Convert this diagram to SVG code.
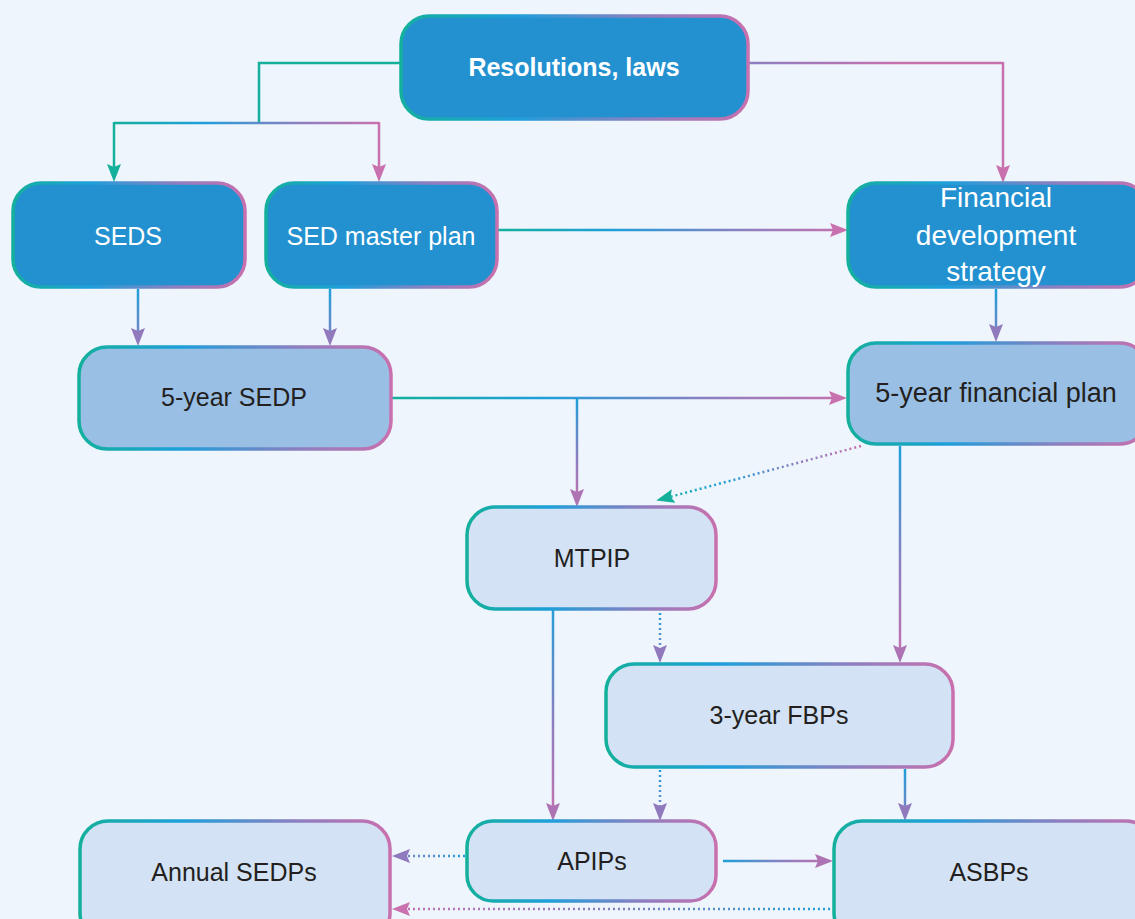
<svg xmlns="http://www.w3.org/2000/svg" xmlns:xlink="http://www.w3.org/1999/xlink" width="1135" height="919" viewBox="0 0 1135 919">
<style>
.lbl{font-family:"Liberation Sans",Arial,sans-serif;font-size:25px;text-anchor:middle;fill:#231f20}
.big{font-size:28px}
.big2{font-size:27px}
.wt{fill:#ffffff}
.bold{font-weight:bold}
.box{stroke:url(#gBorder);stroke-width:3.5}
.dark{fill:#2391d0}
.mid{fill:#99bfe5}
.light{fill:#d3e2f4}
.ln{fill:none;stroke-width:2.5}
.dot{fill:none;stroke-width:2.5;stroke-dasharray:2 3}
</style>
<defs>
<linearGradient id="gBorder" x1="0" y1="0" x2="1" y2="0">
<stop offset="0" stop-color="#14b09c"/><stop offset="0.33" stop-color="#1e9fda"/><stop offset="0.7" stop-color="#8c7fc0"/><stop offset="1" stop-color="#c970ae"/>
</linearGradient>
<linearGradient id="gFull"><stop offset="0" stop-color="#14b09c"/><stop offset="0.33" stop-color="#1e9fda"/><stop offset="0.7" stop-color="#8c7fc0"/><stop offset="1" stop-color="#c970ae"/></linearGradient>
<linearGradient id="gBP"><stop offset="0" stop-color="#1e9fda"/><stop offset="0.55" stop-color="#8c7fc0"/><stop offset="1" stop-color="#c970ae"/></linearGradient>
<linearGradient id="gBPu"><stop offset="0" stop-color="#1e9fda"/><stop offset="1" stop-color="#8c7fc0"/></linearGradient>
<linearGradient id="gPP"><stop offset="0" stop-color="#8c7fc0"/><stop offset="0.6" stop-color="#c970ae"/><stop offset="1" stop-color="#c970ae"/></linearGradient>
<linearGradient id="c1" xlink:href="#gFull" gradientUnits="userSpaceOnUse" x1="114" y1="0" x2="379" y2="0"/>
<linearGradient id="c2" xlink:href="#gPP" gradientUnits="userSpaceOnUse" x1="748" y1="0" x2="1003" y2="0"/>
<linearGradient id="c3" xlink:href="#gFull" gradientUnits="userSpaceOnUse" x1="497" y1="0" x2="848" y2="0"/>
<linearGradient id="v1" xlink:href="#gBPu" gradientUnits="userSpaceOnUse" x1="0" y1="289" x2="0" y2="346"/>
<linearGradient id="c4" xlink:href="#gFull" gradientUnits="userSpaceOnUse" x1="391" y1="0" x2="847" y2="0"/>
<linearGradient id="v2" xlink:href="#gBP" gradientUnits="userSpaceOnUse" x1="0" y1="398" x2="0" y2="507"/>
<linearGradient id="c5" xlink:href="#gFull" gradientUnits="userSpaceOnUse" x1="656" y1="0" x2="861" y2="0"/>
<linearGradient id="v3" xlink:href="#gBP" gradientUnits="userSpaceOnUse" x1="0" y1="446" x2="0" y2="663"/>
<linearGradient id="v4" xlink:href="#gBP" gradientUnits="userSpaceOnUse" x1="0" y1="601" x2="0" y2="821"/>
<linearGradient id="v5" xlink:href="#gBPu" gradientUnits="userSpaceOnUse" x1="0" y1="612" x2="0" y2="663"/>
<linearGradient id="v6" xlink:href="#gBPu" gradientUnits="userSpaceOnUse" x1="0" y1="769" x2="0" y2="821"/>
<linearGradient id="c6" xlink:href="#gBPu" gradientUnits="userSpaceOnUse" x1="467" y1="0" x2="392" y2="0"/>
<linearGradient id="c7" xlink:href="#gBP" gradientUnits="userSpaceOnUse" x1="723" y1="0" x2="833" y2="0"/>
<linearGradient id="c8" xlink:href="#gBP" gradientUnits="userSpaceOnUse" x1="840" y1="0" x2="392" y2="0"/>
<marker id="mTeal" markerUnits="userSpaceOnUse" markerWidth="20" markerHeight="16" refX="12" refY="7" orient="auto"><path d="M0,0 L18,7 L0,14 L3,7 z" fill="#14b09c"/></marker>
<marker id="mPurple" markerUnits="userSpaceOnUse" markerWidth="20" markerHeight="16" refX="12" refY="7" orient="auto"><path d="M0,0 L18,7 L0,14 L3,7 z" fill="#9079bd"/></marker>
<marker id="mMauve" markerUnits="userSpaceOnUse" markerWidth="20" markerHeight="16" refX="12" refY="7" orient="auto"><path d="M0,0 L18,7 L0,14 L3,7 z" fill="#ad73b3"/></marker>
<marker id="mPink" markerUnits="userSpaceOnUse" markerWidth="20" markerHeight="16" refX="12" refY="7" orient="auto"><path d="M0,0 L18,7 L0,14 L3,7 z" fill="#c970ae"/></marker>
</defs>
<rect x="0" y="0" width="1135" height="919" fill="#eef5fc"/>
<g id="connectors">
<path class="ln" stroke="#14b09c" d="M400,63 H259 V123"/>
<path class="ln" stroke="url(#c1)" d="M114,123 H379"/>
<path class="ln" stroke="#14b09c" d="M114,122 V176" marker-end="url(#mTeal)"/>
<path class="ln" stroke="#c970ae" d="M379,122 V176" marker-end="url(#mPink)"/>
<path class="ln" stroke="url(#c2)" d="M748,63 H1003"/>
<path class="ln" stroke="#c970ae" d="M1003,62 V177" marker-end="url(#mPink)"/>
<path class="ln" stroke="url(#c3)" d="M497,230 H842" marker-end="url(#mPink)"/>
<path class="ln" stroke="url(#v1)" d="M138,289 V340" marker-end="url(#mPurple)"/>
<path class="ln" stroke="url(#v1)" d="M330,289 V340" marker-end="url(#mPurple)"/>
<path class="ln" stroke="url(#v1)" d="M996,289 V336" marker-end="url(#mPurple)"/>
<path class="ln" stroke="url(#c4)" d="M391,398 H841" marker-end="url(#mPink)"/>
<path class="ln" stroke="url(#v2)" d="M577,398 V501" marker-end="url(#mMauve)"/>
<path class="dot" stroke="url(#c5)" d="M861,446 L662,499" marker-end="url(#mTeal)"/>
<path class="ln" stroke="url(#v3)" d="M900,446 V657" marker-end="url(#mMauve)"/>
<path class="ln" stroke="url(#v4)" d="M553,601 V815" marker-end="url(#mMauve)"/>
<path class="dot" stroke="url(#v5)" d="M660,613 V657" marker-end="url(#mPurple)"/>
<path class="dot" stroke="url(#v6)" d="M660,770 V815" marker-end="url(#mPurple)"/>
<path class="ln" stroke="url(#v6)" d="M905,769 V815" marker-end="url(#mPurple)"/>
<path class="dot" stroke="url(#c6)" d="M465,856 H398" marker-end="url(#mPurple)"/>
<path class="ln" stroke="url(#c7)" stroke-width="4" d="M723,861 H827" marker-end="url(#mMauve)"/>
<path class="dot" stroke="url(#c8)" d="M840,909 H398" marker-end="url(#mPink)"/>
</g>
<g id="node-resolutions">
<rect class="box dark" x="401" y="16" width="347" height="103" rx="28"/>
<text class="lbl wt bold" x="574" y="76">Resolutions, laws</text>
</g>
<g id="node-seds">
<rect class="box dark" x="13" y="183" width="232" height="104" rx="28"/>
<text class="lbl wt" x="128" y="245">SEDS</text>
</g>
<g id="node-sed-master-plan">
<rect class="box dark" x="266" y="183" width="231" height="104" rx="28"/>
<text class="lbl wt" x="381" y="245">SED master plan</text>
</g>
<g id="node-financial-strategy">
<rect class="box dark" x="848" y="183" width="300" height="104" rx="28"/>
<text class="lbl wt big" x="996" y="207">Financial</text>
<text class="lbl wt big" x="996" y="245">development</text>
<text class="lbl wt big" x="996" y="281">strategy</text>
</g>
<g id="node-5y-sedp">
<rect class="box mid" x="79" y="347" width="312" height="102" rx="28"/>
<text class="lbl" x="234" y="406">5-year SEDP</text>
</g>
<g id="node-5y-fin-plan">
<rect class="box mid" x="848" y="343" width="300" height="101" rx="28"/>
<text class="lbl big2" x="996" y="402">5-year financial plan</text>
</g>
<g id="node-mtpip">
<rect class="box light" x="467" y="507" width="249" height="102" rx="28"/>
<text class="lbl" x="592" y="567">MTPIP</text>
</g>
<g id="node-3y-fbps">
<rect class="box light" x="606" y="664" width="347" height="103" rx="28"/>
<text class="lbl" x="779" y="724">3-year FBPs</text>
</g>
<g id="node-annual-sedps">
<rect class="box light" x="80" y="821" width="310" height="120" rx="28"/>
<text class="lbl" x="234" y="881">Annual SEDPs</text>
</g>
<g id="node-apips">
<rect class="box light" x="467" y="821" width="249" height="80" rx="26"/>
<text class="lbl" x="592" y="870">APIPs</text>
</g>
<g id="node-asbps">
<rect class="box light" x="834" y="821" width="320" height="120" rx="28"/>
<text class="lbl" x="989" y="881">ASBPs</text>
</g>
</svg>
